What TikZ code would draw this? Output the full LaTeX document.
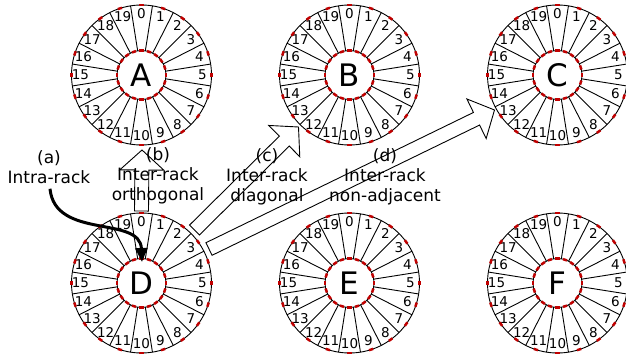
\documentclass[tikz,border=0pt]{standalone}
\usepackage{fontspec}
\setmainfont{DejaVu Sans}
\usetikzlibrary{calc,arrows.meta}
\definecolor{portred}{HTML}{C00000}
\tikzset{
  rim/.style={circle, draw, line width=0.9pt, minimum size=140pt, inner sep=0pt},
  hub/.style={circle, draw, line width=0.9pt, minimum size=49pt, inner sep=0pt,
    font=\fontsize{31}{31}\selectfont},
  spoke/.style={line width=0.9pt},
  portno/.style={inner sep=0pt, font=\fontsize{13.5}{13.5}\selectfont},
  port/.style={draw=portred, line width=2.5pt},
  caption/.style={inner sep=0pt, align=center, font=\fontsize{17}{20}\selectfont},
  fat/.style={draw, line width=0.9pt, line join=miter},
  intrapath/.style={line width=3pt, -{Triangle[length=14pt,width=12pt]}},
}
% one rack: outer rim, hub with its letter, 20 numbered slots and their ports
\newcommand\drawrack[3]{%
  \node[rim] (#1-rim) at (#2) {};
  \node[hub] (#1) at (#2) {#3};
  \foreach \k in {0,...,19} {
    \pgfmathsetmacro\sa{99-18*\k}
    \pgfmathsetmacro\pa{90-18*\k}
    \draw[spoke] ($(#1)+({24.5*cos(\sa)},{-24.5*sin(\sa)})$) --
                 ($(#1)+({70*cos(\sa)},{-70*sin(\sa)})$);
    \node[portno] (#1-n\k) at ($(#1)+({61*cos(\pa)},{-61*sin(\pa)})$) {\k};
    \draw[port] ($(#1)+({70*cos(\pa-1.8)},{-70*sin(\pa-1.8)})$) --
                ($(#1)+({70*cos(\pa+1.8)},{-70*sin(\pa+1.8)})$);
    \draw[port] ($(#1)+({24.5*cos(\pa-5)},{-24.5*sin(\pa-5)})$) --
                ($(#1)+({24.5*cos(\pa+5)},{-24.5*sin(\pa+5)})$);
  }
}
% hollow block arrow from tail #1 to tip #2
\newcommand\fatarrow[2]{%
  \coordinate (#1-base) at ($(#2)!20pt!(#1)$);
  \draw[fat] ($(#1)!7pt!90:(#2)$) -- ($(#1-base)!7pt!-90:(#1)$) --
             ($(#1-base)!22pt!-90:(#1)$) -- (#2) --
             ($(#1-base)!22pt!90:(#1)$) -- ($(#1-base)!7pt!90:(#1)$) --
             ($(#1)!7pt!-90:(#2)$) -- cycle;
}
\begin{document}
\begin{tikzpicture}[x=1pt,y=-1pt]
  \useasboundingbox (0,0) rectangle (626,356);

  \drawrack{A}{141.5,75}{A}
  \drawrack{B}{349.5,75}{B}
  \drawrack{C}{557.5,75}{C}
  \drawrack{D}{141.5,283}{D}
  \drawrack{E}{349.5,283}{E}
  \drawrack{F}{557.5,283}{F}

  % ends of the inter-rack arrows
  \coordinate (ortho-tail) at ($(D)+(0,-72)$);
  \coordinate (ortho-tip)  at ($(A)+(0.5,75)$);
  \coordinate (diag-tail)  at ($(D)+(53,-53)$);
  \coordinate (diag-tip)   at ($(B)+(-51,52)$);
  \coordinate (far-tail)   at ($(D)+(67.5,-34)$);
  \coordinate (far-tip)    at ($(C)+(-63,35)$);

  \fatarrow{ortho-tail}{ortho-tip}
  \fatarrow{diag-tail}{diag-tip}
  \fatarrow{far-tail}{far-tip}

  \node[caption] (cap-a) at (49,167) {(a)\\Intra-rack};
  \node[caption] (cap-b) at (158,176) {(b)\\Inter-rack\\orthogonal};
  \node[caption] (cap-c) at (267,177) {(c)\\Inter-rack\\diagonal};
  \node[caption] (cap-d) at (385,177) {(d)\\Inter-rack\\non-adjacent};

  % intra-rack path
  \coordinate (intra-tip) at ($(D)+(0.5,-21)$);
  \draw[intrapath] ($(cap-a.south)+(1,5)$) .. controls (55,240) and (140,215) .. (intra-tip);
\end{tikzpicture}
\end{document}
